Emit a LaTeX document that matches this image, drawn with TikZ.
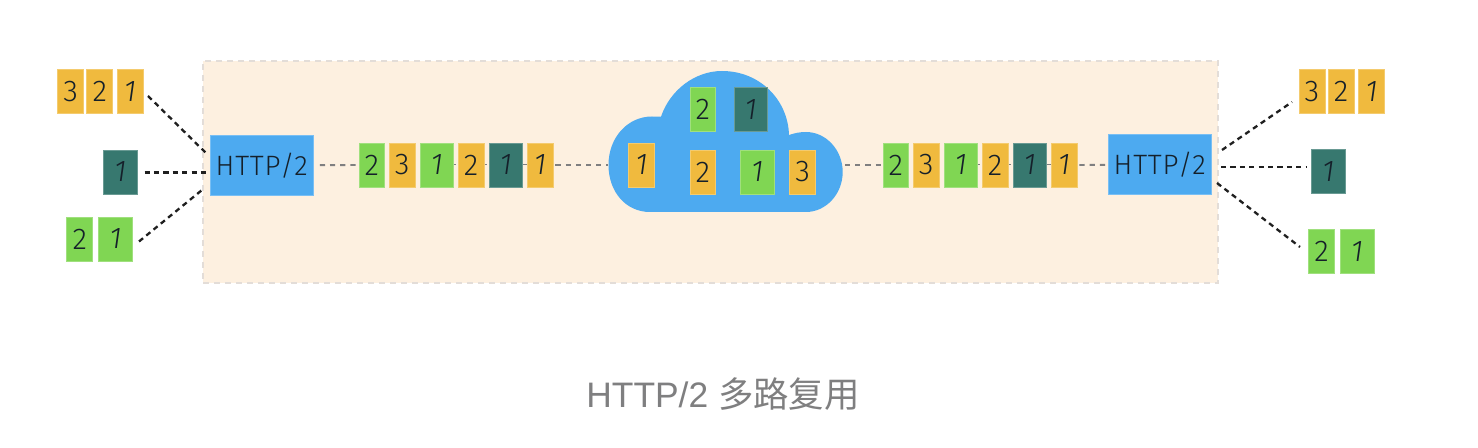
\documentclass[tikz,border=0pt]{standalone}
\usepackage{fontspec}
\setmainfont{Liberation Sans}
\newfontfamily\cjkfont{Noto Sans CJK SC}
\newfontfamily\handfont[ItalicFont=Fira Sans Light Italic]{Fira Sans Light}
\newfontfamily\handwide[LetterSpace=3]{Fira Sans Light}
\definecolor{yel}{HTML}{F0BA3E}
\definecolor{grn}{HTML}{80D653}
\definecolor{tea}{HTML}{37786F}
\definecolor{blu}{HTML}{4DAAF0}
\definecolor{bgc}{HTML}{FDF0E0}
\definecolor{edgec}{HTML}{E3DDD8}
\definecolor{dgray}{HTML}{7F7F80}
\definecolor{ink}{HTML}{15202A}
\newcommand\pktbox[7]{\node[pkt,fill=#6,draw=#6!75!white,minimum width={(#3-#2)*0.5pt},minimum height={(#5-#4)*0.5pt}] (#1) at ({(#2+#3)/2},{(#4+#5)/2}) {#7};}
\begin{document}
\begin{tikzpicture}[x=0.5pt,y=-0.5pt,
  pkt/.style={rectangle,inner sep=0pt,line width=0.4pt,text=ink,font=\handfont\fontsize{15}{16}\selectfont},
  hbox/.style={rectangle,inner sep=0pt,fill=blu,draw=blu!75!white,line width=0.4pt,text=ink,minimum width=51.7pt,minimum height=30pt,font=\handwide\fontsize{14}{15}\selectfont},
  blackdash/.style={draw=black!88,line width=1.15pt,dash pattern=on 2.6pt off 2.1pt},
  graydash/.style={draw=dgray,line width=0.95pt,dash pattern=on 2.6pt off 2.5pt}]
\useasboundingbox (0,0) rectangle (1478,448);
\fill[white] (0,0) rectangle (1478,448);
\node[rectangle,inner sep=0pt,fill=bgc,draw=edgec,line width=1.1pt,dash pattern=on 3pt off 2.5pt,minimum width=507.5pt,minimum height=111pt] (panel) at (710.5,172) {};
% free ends
\coordinate (ltA) at (148,96); \coordinate (lhA) at (207,154);
\coordinate (ltB) at (144.5,172.5); \coordinate (lhB) at (209,172.5);
\coordinate (ltC) at (139,241.5); \coordinate (lhC) at (202,190);
\coordinate (rhA) at (1222,150); \coordinate (rtA) at (1292,102);
\coordinate (rhB) at (1221,167); \coordinate (rtB) at (1306,167);
\coordinate (rhC) at (1217,183); \coordinate (rtC) at (1300,247);
\coordinate (cloudW) at (608,165); \coordinate (cloudE) at (843,165);
\node[hbox] (hl) at (261.7,165.2) {HTTP/2};
\node[hbox] (hr) at (1159.7,164.8) {HTTP/2};
% cloud
\fill[blu] (650,212) .. controls (626,212) and (608.5,192) .. (608.5,165)
  .. controls (608.5,137) and (628,116.5) .. (652,116.5)
  .. controls (655,116.5) and (658,116.7) .. (661,116.7)
  .. controls (670,90) and (695,71) .. (722,71)
  .. controls (760,71) and (788,100) .. (789,135)
  .. controls (795,133) and (800,132) .. (806,132)
  .. controls (826,132) and (842.7,150) .. (842.7,172)
  .. controls (842.7,194) and (826,212) .. (806,212) -- cycle;
% left groups
\pktbox{a3}{57.7}{83.7}{69.3}{113}{yel}{3}
\pktbox{a2}{86.7}{112.7}{69.3}{113}{yel}{2}
\pktbox{a1}{117}{143}{69.3}{113}{yel}{\itshape 1}
\pktbox{b1}{103.3}{137}{150}{194}{tea}{\itshape 1}
\pktbox{c2}{66.7}{92.7}{217}{261}{grn}{2}
\pktbox{c1}{98.7}{132.5}{217}{261}{grn}{\itshape 1}
% left stream
\draw[graydash,line width=0.5pt] (359,165) -- (553,165);
\pktbox{s1}{359}{384.5}{143}{187}{grn}{2}
\pktbox{s2}{389.5}{415}{143}{187}{yel}{3}
\pktbox{s3}{420}{453.7}{143}{187}{grn}{\itshape 1}
\pktbox{s4}{458.3}{484}{143}{187}{yel}{2}
\pktbox{s5}{489}{522.7}{143}{187}{tea}{\itshape 1}
\pktbox{s6}{527}{553}{143}{187}{yel}{\itshape 1}
% cloud packets
\pktbox{k1}{628.5}{654.5}{143}{187}{yel}{\itshape 1}
\pktbox{k2}{690}{715.7}{87.7}{131.3}{grn}{2}
\pktbox{k3}{734}{767.7}{87.7}{131.3}{tea}{\itshape 1}
\pktbox{k4}{690}{715.7}{150}{194}{yel}{2}
\pktbox{k5}{740.3}{774.3}{150}{194}{grn}{\itshape 1}
\pktbox{k6}{789.7}{815.7}{150}{194}{yel}{3}
% right stream
\draw[graydash,line width=0.5pt] (883,165) -- (1077,165);
\pktbox{t1}{883}{908.5}{143}{187}{grn}{2}
\pktbox{t2}{913.5}{939}{143}{187}{yel}{3}
\pktbox{t3}{944}{977.7}{143}{187}{grn}{\itshape 1}
\pktbox{t4}{982}{1008}{143}{187}{yel}{2}
\pktbox{t5}{1013}{1046.7}{143}{187}{tea}{\itshape 1}
\pktbox{t6}{1051}{1077}{143}{187}{yel}{\itshape 1}
% right groups
\pktbox{d3}{1299}{1325}{69.3}{113}{yel}{3}
\pktbox{d2}{1328}{1354}{69.3}{113}{yel}{2}
\pktbox{d1}{1358.5}{1384.5}{69.3}{113}{yel}{\itshape 1}
\pktbox{e1}{1311.7}{1345}{149.3}{193}{tea}{\itshape 1}
\pktbox{f2}{1308.5}{1334.5}{229.5}{273}{grn}{2}
\pktbox{f1}{1340}{1374}{229.5}{273}{grn}{\itshape 1}
% connectors
\draw[blackdash] (ltA) -- (lhA);
\draw[blackdash] (ltB) -- (lhB);
\draw[blackdash] (ltC) -- (lhC);
\draw[blackdash] (rhA) -- (rtA);
\draw[blackdash] (rhB) -- (rtB);
\draw[blackdash] (rhC) -- (rtC);
\draw[graydash,shorten <=3pt] (hl.east) -- (s1.west);
\draw[graydash,shorten <=1pt] (s6.east) -- (cloudW);
\draw[graydash,shorten <=1pt] (cloudE) -- (t1.west);
\draw[graydash,shorten <=1pt] (t6.east) -- (hr.west);
% caption
\node[inner sep=0pt,text=dgray,font=\fontsize{17.7}{20}\selectfont] (cap) at (723,394) {HTTP/2 {\cjkfont 多路复用}};
\end{tikzpicture}
\end{document}
